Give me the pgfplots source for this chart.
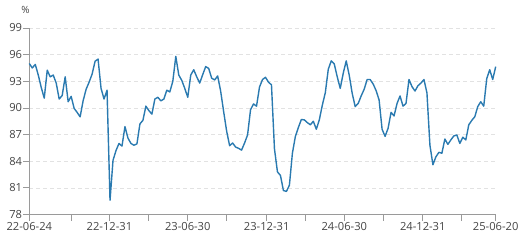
\documentclass[border=0pt]{standalone}
\usepackage{pgfplots}
\pgfplotsset{compat=1.18}
\usepackage{pgfplotstable}
\usepackage{fontspec}
\setmainfont{Open Sans}
\definecolor{lineblue}{HTML}{2A7AB0}
\definecolor{txt}{HTML}{444444}
\definecolor{axgray}{HTML}{9A9A9A}
\definecolor{gridgray}{HTML}{E2E2E2}
\pgfplotstableread{
w v
0 95.0
1 94.5
2 94.9
3 93.7
4 92.3
5 91.1
6 94.25
7 93.5
8 93.7
9 92.8
10 91.0
11 91.4
12 93.5
13 90.7
14 91.3
15 89.95
16 89.5
17 89.0
18 90.8
19 92.1
20 92.9
21 93.8
22 95.25
23 95.5
24 92.2
25 91.0
26 92.0
27 79.6
28 84.1
29 85.2
30 86.0
31 85.7
32 87.9
33 86.6
34 86.0
35 85.8
36 85.95
37 88.2
38 88.6
39 90.2
40 89.7
41 89.3
42 91.0
43 91.2
44 90.8
45 91.0
46 92.0
47 91.8
48 93.0
49 95.8
50 93.7
51 93.1
52 92.2
53 91.2
54 93.7
55 94.3
56 93.5
57 92.8
58 93.75
59 94.65
60 94.45
61 93.35
62 93.15
63 93.6
64 91.9
65 89.6
66 87.4
67 85.75
68 86.05
69 85.6
70 85.45
71 85.25
72 86.05
73 86.95
74 89.8
75 90.45
76 90.2
77 92.35
78 93.2
79 93.45
80 92.9
81 92.6
82 85.4
83 82.8
84 82.4
85 80.7
86 80.6
87 81.3
88 84.9
89 86.8
90 87.8
91 88.7
92 88.65
93 88.35
94 88.1
95 88.5
96 87.6
97 88.65
98 90.3
99 91.7
100 94.35
101 95.3
102 94.95
103 93.5
104 92.2
105 93.9
106 95.3
107 93.7
108 91.65
109 90.15
110 90.5
111 91.35
112 92.1
113 93.2
114 93.2
115 92.7
116 91.95
117 90.9
118 87.6
119 86.8
120 87.7
121 89.5
122 89.1
123 90.5
124 91.35
125 90.2
126 90.5
127 93.2
128 92.4
129 91.9
130 92.5
131 92.8
132 93.2
133 91.7
134 85.8
135 83.6
136 84.5
137 85.0
138 84.9
139 86.5
140 85.9
141 86.4
142 86.85
143 86.96
144 86.0
145 86.7
146 86.4
147 88.1
148 88.6
149 89.0
150 90.15
151 90.7
152 90.2
153 93.3
154 94.3
155 93.2
156 94.65
}\datatable
\begin{document}
\begin{tikzpicture}
\useasboundingbox (0,0) rectangle (529bp,242bp);
\begin{axis}[
  at={(29.3bp,27.5bp)}, anchor=south west,
  scale only axis, width=466.4bp, height=186.5bp,
  xmin=0, xmax=156, ymin=78, ymax=99,
  axis x line=bottom, axis y line=left,
  axis line style={-, axgray, line width=0.9bp},
  ytick={78,81,84,87,90,93,96,99},
  xtick={0,14,26.8,40,53,66,79.4,92.2,105.35,118.4,131.6,144.5,156},
  xticklabels={22-06-24,,22-12-31,,23-06-30,,23-12-31,,24-06-30,,24-12-31,,25-06-20},
  tick align=outside,
  major tick length=6bp,
  tick style={axgray, line width=0.8bp},
  ymajorgrids,
  grid style={gridgray, dash pattern=on 4bp off 3bp, line width=0.6bp},
  ticklabel style={font=\fontsize{11.2}{13}\selectfont, text=txt},
  yticklabel style={inner sep=1bp},
  xticklabel style={inner sep=1.5bp, yshift=-0.5bp},
  /pgf/number format/assume math mode=true,
  ylabel={\%},
  ylabel style={rotate=-90, at={(axis description cs:-0.008,1.097)}, anchor=center, font=\fontsize{10}{12}\selectfont, text=txt},
  clip=false,
]
\addplot[lineblue, line width=1.4bp, line join=round] table[x=w, y=v] {\datatable};
\end{axis}
\end{tikzpicture}
\end{document}
